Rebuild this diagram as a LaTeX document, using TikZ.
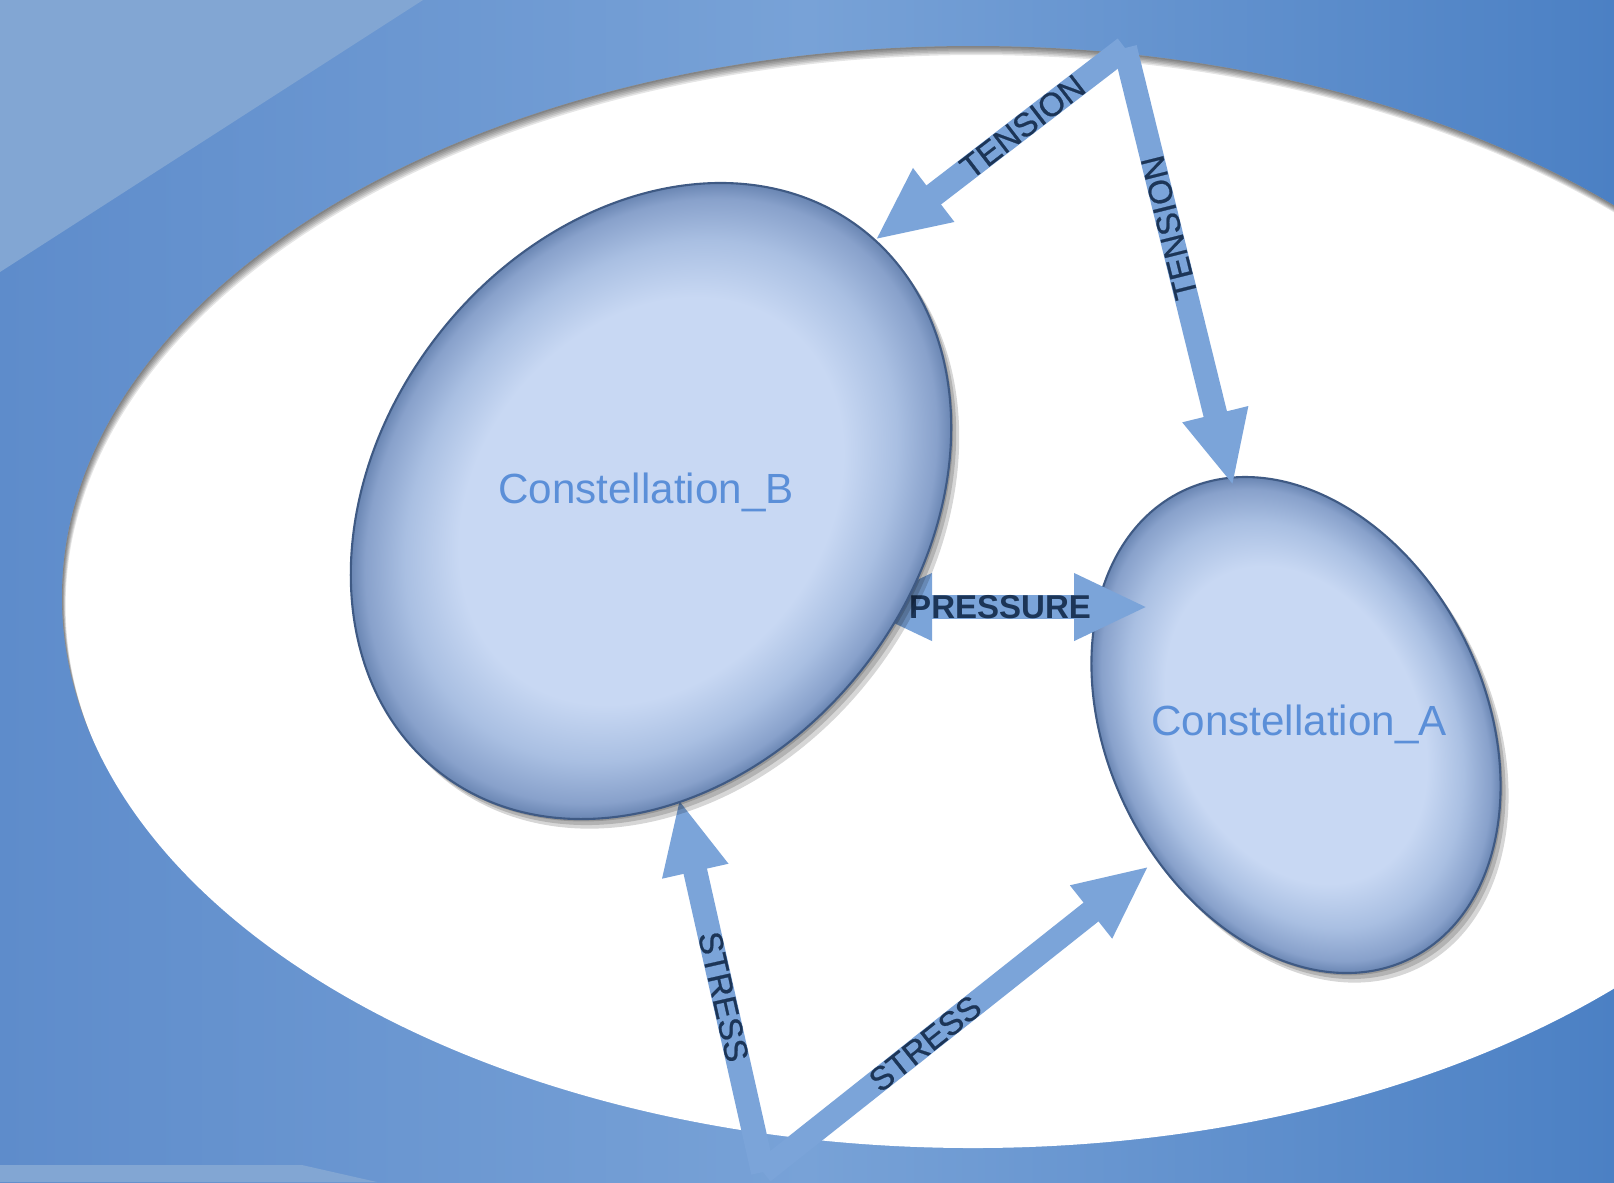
\documentclass[tikz,border=0pt]{standalone}
\usepackage{fontspec}
\setmainfont{Liberation Sans}
\newfontfamily\flowfont{Liberation Sans}[FakeBold=0.7]
\usetikzlibrary{arrows.meta}

\definecolor{bgleft}{HTML}{5E8CCB}
\definecolor{bgmid}{HTML}{78A2D7}
\definecolor{bgright}{HTML}{4B80C4}
\definecolor{bandblue}{HTML}{82A6D3}
\definecolor{flowblue}{HTML}{7BA4D9}
\definecolor{labelnavy}{HTML}{1C3557}
\definecolor{blobin}{HTML}{C8D8F3}
\definecolor{blobmid}{HTML}{A9BFE2}
\definecolor{blobrim}{HTML}{88A1CB}
\definecolor{blobedge}{HTML}{6A86B3}
\definecolor{blobline}{HTML}{3F5A84}
\definecolor{blobtext}{HTML}{5B8FD8}

\pgfdeclareradialshading{bevel}{\pgfpoint{0bp}{0bp}}{color(0bp)=(blobin); color(16bp)=(blobin); color(20.5bp)=(blobmid); color(23.8bp)=(blobrim); color(25bp)=(blobedge); color(50bp)=(blobedge)}

\tikzset{
  flowtip/.tip={Triangle[width=0.62cm,length=0.74cm]},
  flow/.style={draw=flowblue, line width=0.24cm, -flowtip},
  flowlabel/.style={text=labelnavy, font=\flowfont\fontsize{9.4}{11}\selectfont, inner sep=0pt},
  blob/.style={shading=bevel, draw=blobline, line width=0.6pt},
  blobname/.style={text=blobtext, font=\fontsize{12}{14}\selectfont},
}

\begin{document}
\begin{tikzpicture}
  \useasboundingbox (0,0) rectangle (16.14,-11.82);
  \clip (0,0) rectangle (16.14,-11.82);

  % Fondo
  \shade[left color=bgleft, right color=bgright, middle color=bgmid] (0,0) rectangle (16.14,-11.82);
  \fill[bandblue] (0,0) -- (4.23,0) -- (0,-2.72) -- cycle;
  \fill[bandblue] (0,-11.65) -- (3.02,-11.65) -- (3.77,-11.82) -- (0,-11.82) -- cycle;

  % Elipse blanca con sombra interior
  \fill[white] (9.73,-5.97) ellipse [x radius=9.11, y radius=5.51];
  \begin{scope}
    \clip (9.73,-5.97) ellipse [x radius=9.11, y radius=5.51];
    \foreach \d in {0.015,0.03,...,0.09}
      \fill[black, opacity=0.1, even odd rule] (-1,1) rectangle (20,-13)
        ({9.73+0.4*\d},{-5.97-\d}) ellipse [x radius=9.11, y radius=5.51];
  \end{scope}

  % Constellation_A
  \foreach \s in {0.02,0.05,0.08}{
    \begin{scope}[transform canvas={shift={({12.96+\s},{-7.25-1.2*\s})}, rotate=-64}]
      \fill[black, opacity=0.16] (0,0) ellipse [x radius=2.60, y radius=1.89];
    \end{scope}
  }
  \begin{scope}[transform canvas={shift={(12.96,-7.25)}, rotate=-64}]
    \path[blob] (0,0) ellipse [x radius=2.60, y radius=1.89];
  \end{scope}

  % Puntos de las flechas
  \coordinate (top) at (11.25,-0.48);
  \coordinate (bot) at (7.63,-11.72);
  \coordinate (tenB) at (8.75,-2.40);
  \coordinate (tenA) at (12.33,-4.86);
  \coordinate (preB) at (8.58,-6.07);
  \coordinate (preA) at (11.48,-6.07);
  \coordinate (strB) at (6.79,-7.99);
  \coordinate (strA) at (11.49,-8.66);

  \draw[flow] (top) -- (tenB) node[flowlabel, pos=0.41, rotate=37.5] {TENSION};
  \draw[flow] (top) -- (tenA) node[flowlabel, pos=0.41, rotate=104] {TENSION};
  \draw[flow, flowtip-flowtip] (preB) -- (preA) node[flowlabel, pos=0.49, font=\fontsize{9.4}{11}\selectfont\bfseries] {PRESSURE};
  \draw[flow] (bot) -- (strB) node[flowlabel, pos=0.47, rotate=-77.3] {STRESS};
  \draw[flow] (bot) -- (strA) node[flowlabel, pos=0.42, rotate=38.4] {STRESS};

  % Constellation_B
  \foreach \s in {0.02,0.05,0.08}{
    \begin{scope}[transform canvas={shift={({6.51+\s},{-5.01-1.2*\s})}, rotate=52}]
      \fill[black, opacity=0.16] (0,0) ellipse [x radius=3.44, y radius=2.70];
    \end{scope}
  }
  \begin{scope}[transform canvas={shift={(6.51,-5.01)}, rotate=52}]
    \path[blob] (0,0) ellipse [x radius=3.44, y radius=2.70];
  \end{scope}

  \node[blobname] (B) at (6.46,-4.92) {Constellation\_B};
  \node[blobname] (A) at (12.99,-7.24) {Constellation\_A};
\end{tikzpicture}
\end{document}
